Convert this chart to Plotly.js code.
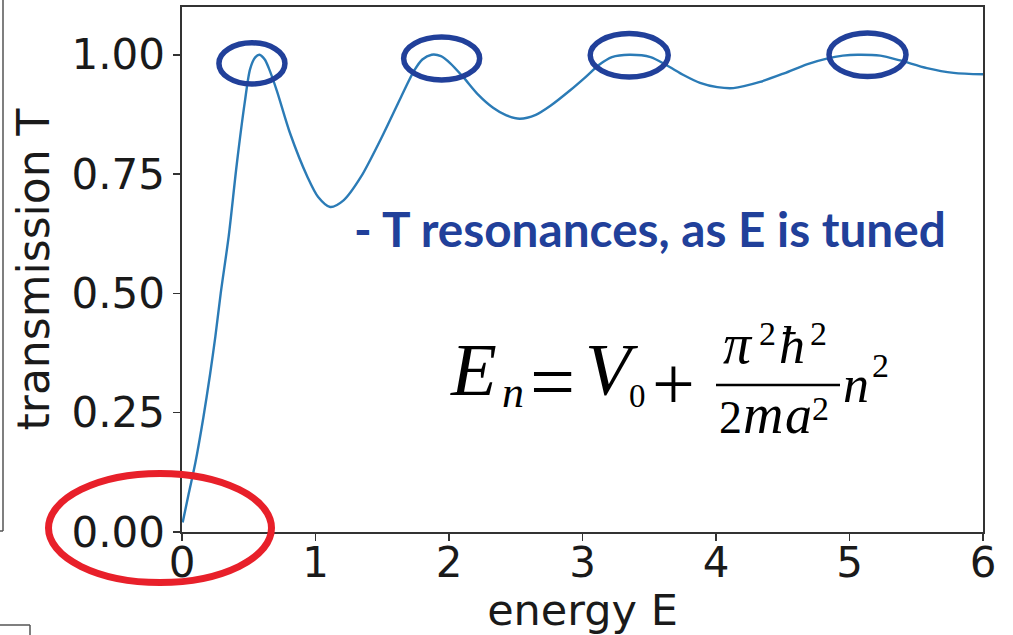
<!DOCTYPE html>
<html>
<head>
<meta charset="utf-8">
<script src="https://cdn.plot.ly/plotly-3.0.1.min.js"></script>
<style>
  html, body { margin: 0; padding: 0; background: #ffffff; }
  #chart { width: 1013px; height: 635px; }
</style>
</head>
<body>
<div id="chart"></div>
<script>
// Transmission through a square well versus incident energy
const energy = [0.005, 0.05, 0.10, 0.16, 0.21, 0.25, 0.29, 0.35, 0.41, 0.47, 0.51, 0.55, 0.58, 0.62, 0.65,
  0.71, 0.81, 0.94, 1.02, 1.11, 1.21, 1.34, 1.51, 1.64, 1.74, 1.80, 1.87, 1.94, 2.01, 2.11, 2.22, 2.33, 2.43,
  2.53, 2.65, 2.76, 2.91, 3.01, 3.13, 3.22, 3.35, 3.51, 3.63, 3.76, 3.88, 4.01, 4.13, 4.33, 4.51, 4.68, 4.83,
  4.95, 5.06, 5.23, 5.38, 5.58, 5.78, 6.0];
const transmission = [0.02, 0.08, 0.145, 0.24, 0.33, 0.41, 0.50, 0.62, 0.77, 0.90, 0.97, 0.995, 1.0, 0.99, 0.972,
  0.925, 0.835, 0.744, 0.702, 0.681, 0.695, 0.744, 0.835, 0.911, 0.967, 0.99, 1.0, 0.997, 0.982, 0.952, 0.916, 0.889, 0.873,
  0.866, 0.874, 0.893, 0.926, 0.950, 0.980, 0.995, 1.0, 0.995, 0.978, 0.957, 0.941, 0.932, 0.930, 0.943, 0.961, 0.980, 0.992,
  0.998, 1.0, 0.998, 0.988, 0.972, 0.962, 0.959];

const xTickVals = [0, 1, 2, 3, 4, 5, 6];
const xTickText = ['0', '1', '2', '3', '4', '5', '6'];
const yTickVals = [0, 0.25, 0.5, 0.75, 1.0];
const yTickText = ['0.00', '0.25', '0.50', '0.75', '1.00'];

// Resonance peaks highlighted with ellipses (energy of each peak)
const resonanceE = [0.58, 1.87, 3.35, 5.06];

// Page geometry: plot area in pixels
const W = 1013, H = 635;
const L = 182, R = 983, TOP = 7, BOT = 532;
const px = x => (x - L) / (R - L);
const py = y => (BOT - y) / (BOT - TOP);

const blue = '#21409a';
const red = '#e8202a';
const serif = 'Liberation Serif, Times New Roman, serif';

// A text piece placed by its left edge and baseline (pixel units)
function piece(text, left, baseline, size, italic, family, color, k) {
  const kk = (k === undefined) ? 0.3375 : k;
  return {
    xref: 'paper', yref: 'paper',
    x: px(left), y: py(baseline - kk * size),
    xanchor: 'left', yanchor: 'middle',
    text: text, showarrow: false,
    borderpad: 0, borderwidth: 0,
    font: { family: family || serif, size: size, color: color || '#000000', style: italic ? 'italic' : 'normal' }
  };
}

const annotations = [
  // caption
  piece('<b>- T resonances, as E is tuned</b>', 354, 247, 47.7, false, 'Lato, Open Sans, sans-serif', blue, 0.387),
  // E_n = V_0 + (pi^2 hbar^2 / 2 m a^2) n^2
  piece('E', 450, 395, 75, true),
  piece('n', 502, 407, 44, true),
  piece('=', 530, 409, 80, false),
  piece('V', 585, 395, 75, true),
  piece('0', 629, 407, 33, false),
  piece('+', 652, 409, 76, false),
  piece('π', 723, 363, 56, true),
  piece('2', 759, 345, 34, false),
  piece('ħ', 779, 363, 52, true),
  piece('2', 810, 345, 34, false),
  piece('2', 719, 433, 46, false),
  piece('m', 743, 433, 56, true),
  piece('a', 785, 433, 54, true),
  piece('2', 812, 420, 34, false),
  piece('n', 843, 402, 52, true),
  piece('2', 872, 377, 34, false)
];

function ellipse(x0, y0, x1, y1, color, width) {
  return {
    type: 'circle', xref: 'paper', yref: 'paper',
    x0: px(x0), x1: px(x1), y0: py(y1), y1: py(y0),
    line: { color: color, width: width }, fillcolor: 'rgba(0,0,0,0)', layer: 'above'
  };
}
function seg(x0, y0, x1, y1, color, width) {
  return {
    type: 'line', xref: 'paper', yref: 'paper',
    x0: px(x0), x1: px(x1), y0: py(y0), y1: py(y1),
    line: { color: color, width: width }, layer: 'above'
  };
}

// Ellipses around each resonance, centred near the peak
const peakEllipses = resonanceE.map((e, i) => {
  const half = [33, 38, 39, 38.5][i];
  const yHalf = [20.6, 21.5, 21.7, 21.7][i];
  const yc = [63.4, 58.5, 55.2, 54.7][i];
  const xc = L + (e / 6) * (R - L) + [-7.5, 10, 0, 10][i];
  return ellipse(xc - half, yc - yHalf, xc + half, yc + yHalf, blue, 5.5);
});

const shapes = [
  ...peakEllipses,
  ellipse(48.5, 473.5, 271.5, 582.5, red, 7),
  // fraction bar
  seg(716, 385, 840, 385, '#000000', 2.3),
  // neighbouring panel edges
  seg(3, 0, 3, 531, '#555555', 1.5),
  seg(0, 531, 3, 531, '#555555', 1.5),
  seg(0, 625, 30, 625, '#555555', 1.5),
  seg(30, 625, 30, 635, '#555555', 1.5)
];

const axisFont = { family: 'DejaVu Sans, sans-serif', size: 42, color: '#1a1a1a' };

const trace = {
  x: energy, y: transmission,
  type: 'scatter', mode: 'lines',
  line: { color: '#2b7bb6', width: 2.4, shape: 'spline', smoothing: 0.8 },
  hoverinfo: 'skip'
};
// empty trace that carries the x tick-label axis
const labelCarrier = { x: [], y: [], type: 'scatter', mode: 'lines', xaxis: 'x2', yaxis: 'y', hoverinfo: 'skip' };

const layout = {
  width: W, height: H,
  margin: { l: L, r: W - R, t: TOP, b: H - BOT, pad: 0 },
  paper_bgcolor: '#ffffff', plot_bgcolor: '#ffffff',
  showlegend: false,
  // frame and tick marks
  xaxis: {
    range: [0, 6], tickvals: xTickVals, showticklabels: false,
    ticks: 'outside', ticklen: 7, tickwidth: 1.6, tickcolor: '#333333',
    showline: true, mirror: true, linecolor: '#333333', linewidth: 1.6,
    showgrid: false, zeroline: false
  },
  // tick labels and title
  xaxis2: {
    range: [0, 6], matches: 'x', overlaying: 'x', anchor: 'free', position: 0, side: 'bottom',
    tickvals: xTickVals, ticktext: xTickText, ticks: '', ticklabelstandoff: 2,
    showline: false, showgrid: false, zeroline: false, tickfont: axisFont,
    title: { text: 'energy E', font: { family: 'DejaVu Sans, sans-serif', size: 43, color: '#1a1a1a' }, standoff: 15 }
  },
  yaxis: {
    range: [0, 1.1], tickvals: yTickVals, ticktext: yTickText,
    ticks: 'outside', ticklen: 7, tickwidth: 1.6, tickcolor: '#333333',
    showline: true, mirror: true, linecolor: '#333333', linewidth: 1.6,
    showgrid: false, zeroline: false, tickfont: axisFont,
    title: { text: 'transmission T', font: { family: 'DejaVu Sans, sans-serif', size: 44, color: '#1a1a1a' }, standoff: 8 }
  },
  annotations: annotations,
  shapes: shapes
};

Plotly.newPlot('chart', [trace, labelCarrier], layout, { displayModeBar: false, staticPlot: true });
</script>
</body>
</html>
